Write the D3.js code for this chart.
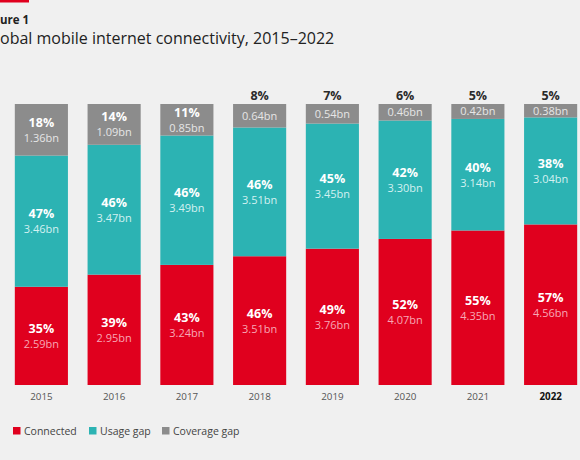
<!DOCTYPE html>
<html>
<head>
<meta charset="utf-8">
<script src="https://cdn.jsdelivr.net/npm/d3@7"></script>
<style>
  html, body { margin: 0; padding: 0; background: #f0f0f0; }
  svg { display: block; font-family: "Open Sans", sans-serif; }
</style>
</head>
<body>
<svg id="chart" width="580" height="460"></svg>
<script>
const years = ["2015", "2016", "2017", "2018", "2019", "2020", "2021", "2022"];
const connectedPct = [35, 39, 43, 46, 49, 52, 55, 57];
const usagePct = [47, 46, 46, 46, 45, 42, 40, 38];
const coveragePct = [18, 14, 11, 8, 7, 6, 5, 5];
const connectedBn = [2.59, 2.95, 3.24, 3.51, 3.76, 4.07, 4.35, 4.56];
const usageBn = [3.46, 3.47, 3.49, 3.51, 3.45, 3.30, 3.14, 3.04];
const coverageBn = [1.36, 1.09, 0.85, 0.64, 0.54, 0.46, 0.42, 0.38];
const seriesNames = ["Connected", "Usage gap", "Coverage gap"];
// the reference is cropped at its left edge; only the visible part of the heading is shown
const title = "obal mobile internet connectivity, 2015–2022";
const figureLabel = "ure 1";

const colors = { "Connected": "#e0001e", "Usage gap": "#2cb3b3", "Coverage gap": "#8c8c8c" };
const bnColors = { "Connected": "#f7a8b6", "Usage gap": "#d4f1f1", "Coverage gap": "#e6e6e6" };
const keys = ["connected", "usage", "coverage"];
const keyName = { connected: "Connected", usage: "Usage gap", coverage: "Coverage gap" };

const rows = years.map((y, i) => ({
  year: y,
  connected: connectedBn[i], usage: usageBn[i], coverage: coverageBn[i],
  pct: { connected: connectedPct[i], usage: usagePct[i], coverage: coveragePct[i] }
}));

const svg = d3.select("#chart");

// top accent
svg.append("rect").attr("x", 0).attr("y", 0).attr("width", 29).attr("height", 2.5).attr("fill", "#e0001e");
svg.append("text").attr("x", 0).attr("y", 23.5)
  .attr("font-size", 11.5).attr("font-weight", 700).attr("fill", "#222").text(figureLabel);
svg.append("text").attr("x", 0).attr("y", 44)
  .attr("font-size", 16).attr("fill", "#222").text(title);

const x = d3.scaleBand().domain(years).range([5, 587]).paddingInner(0.27).paddingOuter(0.135);
const y = d3.scaleLinear().domain([0, 1]).range([385, 104]);

const stack = d3.stack().keys(keys).offset(d3.stackOffsetExpand);
const layers = stack(rows);

const g = svg.append("g");
layers.forEach(layer => {
  const name = keyName[layer.key];
  const lg = g.append("g");
  lg.selectAll("rect").data(layer).join("rect")
    .attr("x", d => x(d.data.year))
    .attr("width", x.bandwidth())
    .attr("y", d => y(d[1]))
    .attr("height", d => y(d[0]) - y(d[1]))
    .attr("fill", colors[name]);

  layer.forEach(d => {
    const cx = x(d.data.year) + x.bandwidth() / 2;
    const top = y(d[1]), bot = y(d[0]);
    const h = bot - top;
    const mid = (top + bot) / 2;
    const pct = d.data.pct[layer.key] + "%";
    const bn = d.data[layer.key].toFixed(2) + "bn";
    if (h < 28) {
      lg.append("text").attr("x", cx).attr("y", top - 4).attr("text-anchor", "middle")
        .attr("font-size", 12.5).attr("font-weight", 700).attr("fill", "#2a2a2a").text(pct);
      lg.append("text").attr("x", cx).attr("y", mid + 4).attr("text-anchor", "middle")
        .attr("font-size", 11).attr("fill", bnColors[name]).text(bn);
    } else {
      lg.append("text").attr("x", cx).attr("y", mid - 3).attr("text-anchor", "middle")
        .attr("font-size", 12.5).attr("font-weight", 700).attr("fill", "#ffffff").text(pct);
      lg.append("text").attr("x", cx).attr("y", mid + 12).attr("text-anchor", "middle")
        .attr("font-size", 11).attr("fill", bnColors[name]).text(bn);
    }
  });
});

// x axis labels
const xAxis = svg.append("g").attr("transform", "translate(0,385)")
  .call(d3.axisBottom(x).tickSize(0).tickPadding(8));
xAxis.select(".domain").remove();
xAxis.selectAll("text")
  .attr("font-family", "Open Sans, sans-serif")
  .attr("font-size", 9.8)
  .attr("fill", d => d === "2022" ? "#111" : "#555")
  .attr("font-weight", d => d === "2022" ? 700 : 400);

// legend
const legendX = [13, 89, 162];
const legend = svg.append("g");
seriesNames.forEach((n, i) => {
  legend.append("rect").attr("x", legendX[i]).attr("y", 427).attr("width", 7.5).attr("height", 7.5).attr("fill", colors[n]);
  legend.append("text").attr("x", legendX[i] + 11).attr("y", 435).attr("font-size", 10.5).attr("fill", "#444").text(n);
});
</script>
</body>
</html>
